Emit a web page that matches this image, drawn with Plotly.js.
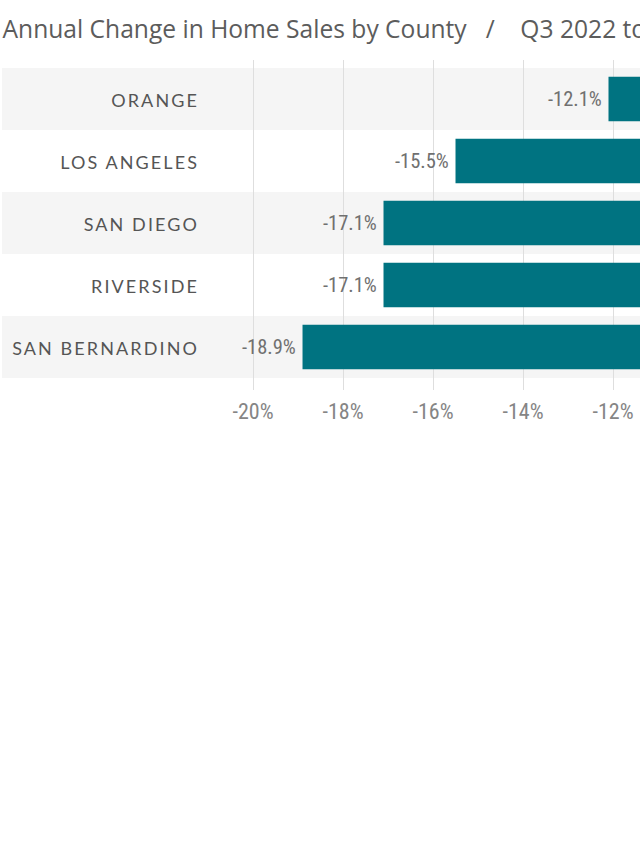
<!DOCTYPE html>
<html>
<head>
<meta charset="utf-8">
<script src="https://cdn.plot.ly/plotly-3.0.1.min.js"></script>
<style>
  html, body { margin: 0; padding: 0; overflow: hidden; background: #fff; }
  #chart { width: 640px; height: 853px; }
  .ytick text { letter-spacing: 2.1px; }
  .xtick text, .annotation-text { font-stretch: condensed; }
</style>
</head>
<body>
<div id="chart"></div>
<script>
const counties = ["ORANGE", "LOS ANGELES", "SAN DIEGO", "RIVERSIDE", "SAN BERNARDINO"];
const changes = [-12.1, -15.5, -17.1, -17.1, -18.9];
const xTicks = [-20, -18, -16, -14, -12];
const xTickLabels = ["-20%", "-18%", "-16%", "-14%", "-12%"];
const titleText = "Annual Change in Home Sales by County&nbsp;&nbsp;&nbsp;/&nbsp;&nbsp;&nbsp;&nbsp;Q3 2022 to Q3 2023";

const numFont = "'Roboto Condensed', 'Noto Sans', 'DejaVu Sans', sans-serif";

const bandShapes = counties.map((c, i) => i % 2 === 0 ? {
  type: 'rect', layer: 'below', xref: 'paper', yref: 'y',
  x0: -0.4837, x1: 1.2, y0: i - 0.5, y1: i + 0.5,
  fillcolor: '#f5f5f5', line: { width: 0 }
} : null).filter(Boolean);

const labels = counties.map((c, i) => ({
  x: changes[i], y: i, xref: 'x', yref: 'y',
  text: changes[i].toFixed(1) + '%',
  showarrow: false, xanchor: 'right', xshift: -5,
  font: { family: numFont, size: 20.5, color: '#707070' }
}));

const trace = {
  type: 'bar', orientation: 'h',
  x: changes, y: counties,
  width: 0.72,
  marker: { color: '#007381', line: { width: 0 } },
  hoverinfo: 'skip'
};

const layout = {
  width: 640, height: 853,
  margin: { l: 210, r: 0, t: 60, b: 463 },
  paper_bgcolor: '#fff', plot_bgcolor: 'rgba(0,0,0,0)',
  title: {
    text: titleText, xref: 'container', x: 0.004, xanchor: 'left',
    yref: 'container', y: 1 - 29 / 853, yanchor: 'middle',
    font: { family: "'Open Sans', sans-serif", size: 24.6, color: '#5c5c5c' }
  },
  xaxis: {
    range: [-20.956, -11.4],
    tickmode: 'array', tickvals: xTicks, ticktext: xTickLabels,
    showgrid: true, gridcolor: '#dedede', gridwidth: 1,
    zeroline: false, showline: false, ticks: '',
    ticklabelstandoff: 6,
    tickfont: { family: numFont, size: 22, color: '#858585' },
    fixedrange: true
  },
  yaxis: {
    type: 'category',
    range: [4.694, -0.629],
    showgrid: false, zeroline: false, showline: false, ticks: '',
    ticklabelstandoff: 10,
    ticklabelshift: -2,
    tickfont: { family: 'Lato, sans-serif', size: 18, color: '#555' },
    fixedrange: true
  },
  shapes: bandShapes,
  annotations: labels,
  showlegend: false,
  bargap: 0.28
};

Plotly.newPlot('chart', [trace], layout, { staticPlot: true, displayModeBar: false });
</script>
</body>
</html>
